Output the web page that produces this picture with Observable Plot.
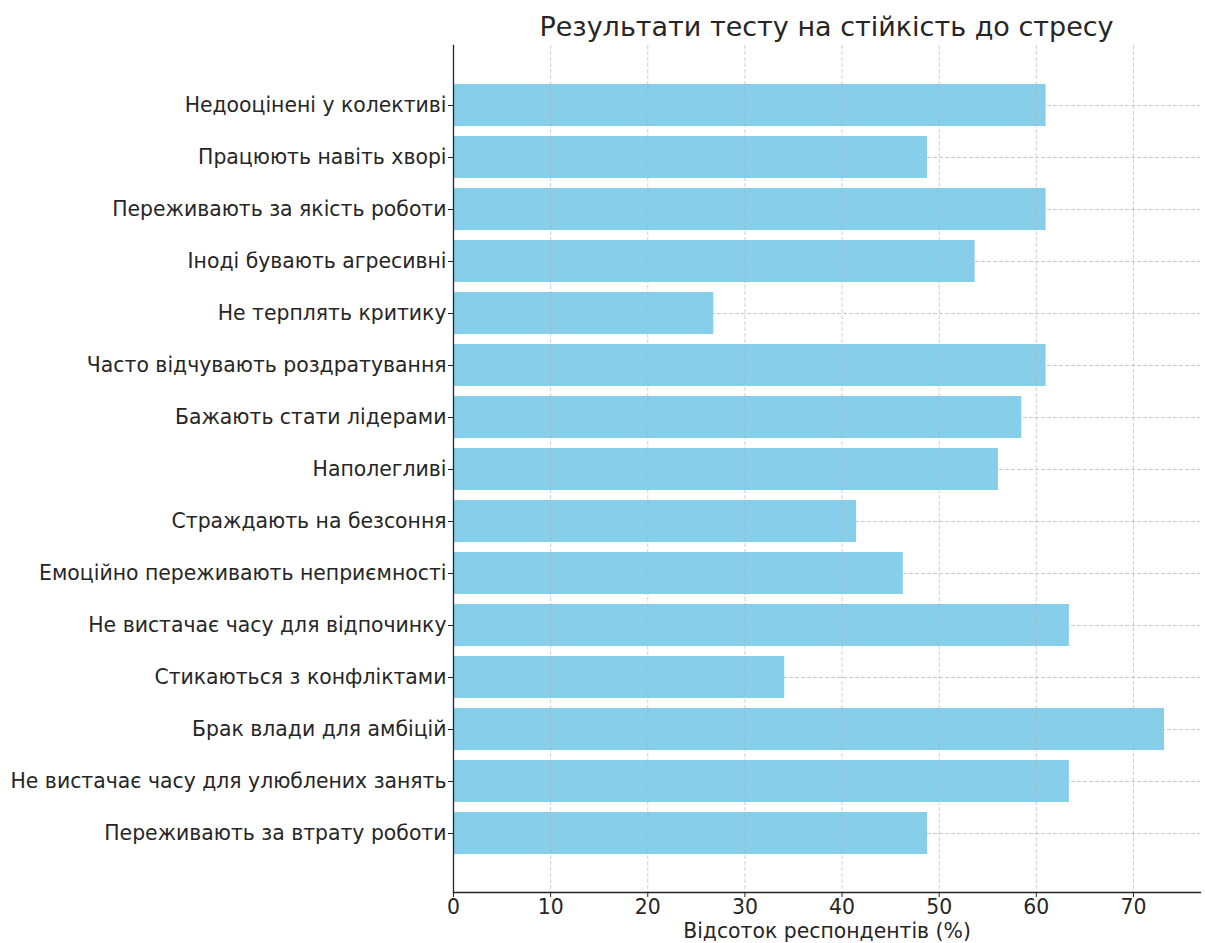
<!DOCTYPE html>
<html>
<head>
<meta charset="utf-8">
<script src="https://cdn.jsdelivr.net/npm/d3@7"></script>
<script src="https://cdn.jsdelivr.net/npm/@observablehq/plot@0.6"></script>
<style>
  html, body { margin: 0; padding: 0; background: #fff; }
  body { width: 1205px; height: 943px; overflow: hidden; font-family: "DejaVu Sans", sans-serif; }
  #title { height: 40px; margin-left: 453px; width: 747px; text-align: center; white-space: nowrap;
           font-size: 27px; color: #262626; line-height: 32px; padding-top: 11px; box-sizing: border-box; }
</style>
</head>
<body>
<div id="title">Результати тесту на стійкість до стресу</div>
<div id="chart"></div>
<script>
const categories = [
  "Недооцінені у колективі",
  "Працюють навіть хворі",
  "Переживають за якість роботи",
  "Іноді бувають агресивні",
  "Не терплять критику",
  "Часто відчувають роздратування",
  "Бажають стати лідерами",
  "Наполегливі",
  "Страждають на безсоння",
  "Емоційно переживають неприємності",
  "Не вистачає часу для відпочинку",
  "Стикаються з конфліктами",
  "Брак влади для амбіцій",
  "Не вистачає часу для улюблених занять",
  "Переживають за втрату роботи"
];
const values = [61.0, 48.8, 61.0, 53.7, 26.8, 61.0, 58.5, 56.1, 41.5, 46.3, 63.4, 34.1, 73.2, 63.4, 48.8];
const xTicks = [0, 10, 20, 30, 40, 50, 60, 70];
const xLabel = "Відсоток респондентів (%)";

const data = categories.map((c, i) => ({category: c, value: values[i]}));

const chart = Plot.plot({
  width: 1205,
  height: 903,
  marginTop: 5,
  marginBottom: 51,
  marginLeft: 453,
  marginRight: 5,
  style: {fontFamily: "DejaVu Sans, sans-serif", fontSize: "20.4px", color: "#262626", background: "#fff", overflow: "visible"},
  x: {domain: [0, 76.9], ticks: xTicks},
  y: {domain: categories, paddingInner: 0.2, paddingOuter: 0.74},
  marks: [
    Plot.gridY({stroke: "#b0b0b0", strokeOpacity: 0.7, strokeDasharray: "4,2"}),
    Plot.barX(data, {x: "value", y: "category", fill: "#87CEEB"}),
    Plot.gridX(xTicks, {stroke: "#b0b0b0", strokeOpacity: 0.6, strokeDasharray: "4,2"}),
    Plot.axisX(xTicks, {tickSize: 5, tickPadding: 2, stroke: "#262626", label: xLabel, labelAnchor: "center", labelArrow: "none", labelOffset: 45, fill: "#262626"}),
    Plot.axisY({tickSize: 5, tickPadding: 2, stroke: "#262626", label: null, fill: "#262626"}),
    Plot.frame({anchor: "left", stroke: "#262626", strokeWidth: 1.3}),
    Plot.frame({anchor: "bottom", stroke: "#262626", strokeWidth: 1.3})
  ]
});
document.getElementById("chart").appendChild(chart);
</script>
</body>
</html>
